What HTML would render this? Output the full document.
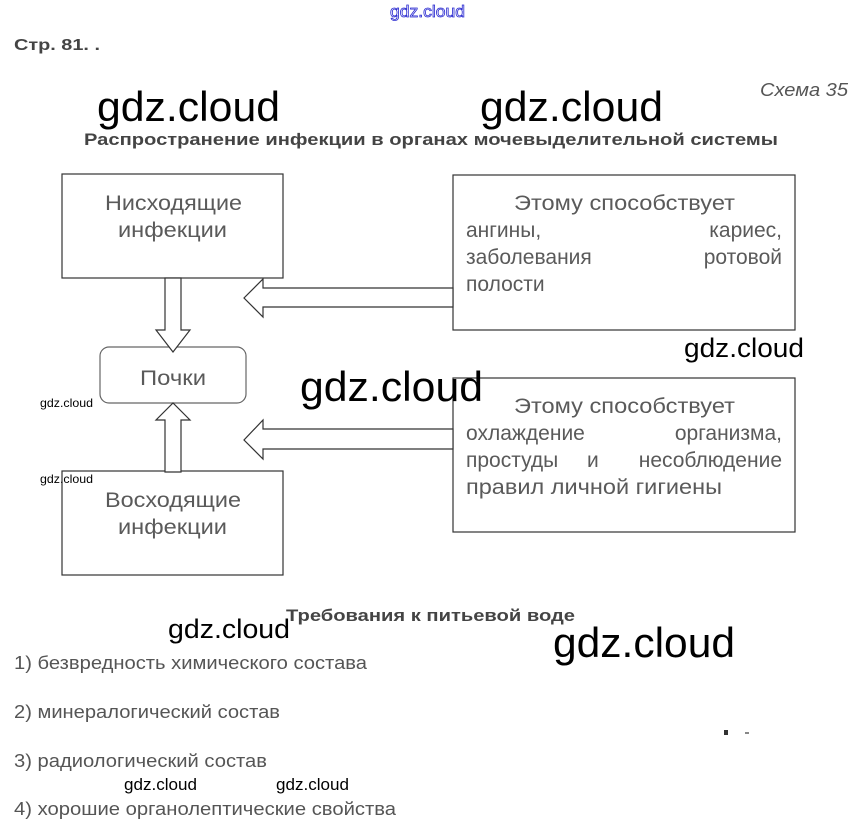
<!DOCTYPE html>
<html><head><meta charset="utf-8"><style>html,body{margin:0;padding:0;background:#fff;width:854px;height:835px;overflow:hidden}</style></head>
<body>
<svg width="854" height="835" viewBox="0 0 854 835" xmlns="http://www.w3.org/2000/svg" font-family="Liberation Sans, sans-serif">
<rect width="854" height="835" fill="#fff"/>
<text x="390" y="17" font-size="17" fill="#fff" stroke="#2a2ad0" stroke-width="0.8" textLength="75" lengthAdjust="spacingAndGlyphs">gdz.cloud</text>
<text x="14" y="50" font-size="16" font-weight="bold" fill="#444" textLength="86" lengthAdjust="spacingAndGlyphs">Стр. 81. .</text>
<text x="760" y="96" font-size="18" font-style="italic" fill="#555" textLength="88" lengthAdjust="spacingAndGlyphs">Схема 35</text>
<text x="97" y="121" font-size="42" fill="#000" textLength="183" lengthAdjust="spacingAndGlyphs">gdz.cloud</text>
<text x="480" y="121" font-size="42" fill="#000" textLength="183" lengthAdjust="spacingAndGlyphs">gdz.cloud</text>
<text x="84" y="145" font-size="17" font-weight="bold" fill="#444" textLength="694" lengthAdjust="spacingAndGlyphs">Распространение инфекции в органах мочевыделительной системы</text>

<g fill="#fff" stroke="#333" stroke-width="1.2">
<rect x="62" y="174" width="221" height="104"/>
<rect x="62" y="471" width="221" height="104"/>
<rect x="453" y="175" width="342" height="155"/>
<rect x="453" y="378" width="342" height="154"/>
<rect x="100" y="347" width="146" height="56" rx="9" stroke="#666"/>
<polygon points="165,278 181,278 181,330 190,330 173,352 156,330 165,330"/>
<polygon points="165,472 181,472 181,420 190,420 173,403 156,420 165,420"/>
<polygon points="453,288 263,288 263,279 244,298 263,317 263,307 453,307"/>
<polygon points="453,429 263,429 263,420 244,440 263,459 263,449 453,449"/>
</g>

<g font-size="21" fill="#5a5a5a">
<text x="105" y="210" textLength="137" lengthAdjust="spacingAndGlyphs">Нисходящие</text>
<text x="118" y="237" textLength="109" lengthAdjust="spacingAndGlyphs">инфекции</text>
<text x="140" y="385" textLength="66" lengthAdjust="spacingAndGlyphs">Почки</text>
<text x="105" y="507" textLength="136" lengthAdjust="spacingAndGlyphs">Восходящие</text>
<text x="118" y="534" textLength="109" lengthAdjust="spacingAndGlyphs">инфекции</text>
</g>
<g font-size="21" fill="#5a5a5a">
<text x="514" y="210" textLength="221" lengthAdjust="spacingAndGlyphs">Этому способствует</text>
<text x="466" y="237">ангины,</text>
<text x="782" y="237" text-anchor="end">кариес,</text>
<text x="466" y="264">заболевания</text>
<text x="782" y="264" text-anchor="end">ротовой</text>
<text x="466" y="291">полости</text>
<text x="514" y="413" textLength="221" lengthAdjust="spacingAndGlyphs">Этому способствует</text>
<text x="466" y="440">охлаждение</text>
<text x="782" y="440" text-anchor="end">организма,</text>
<text x="466" y="467">простуды</text>
<text x="587" y="467">и</text>
<text x="782" y="467" text-anchor="end">несоблюдение</text>
<text x="466" y="494" textLength="256" lengthAdjust="spacingAndGlyphs">правил личной гигиены</text>
</g>

<text x="300" y="401" font-size="42" fill="#000" textLength="183" lengthAdjust="spacingAndGlyphs">gdz.cloud</text>
<text x="684" y="357" font-size="27" fill="#000" textLength="120" lengthAdjust="spacingAndGlyphs">gdz.cloud</text>
<text x="40" y="407" font-size="12" fill="#000" textLength="53" lengthAdjust="spacingAndGlyphs">gdz.cloud</text>
<text x="40" y="483" font-size="12" fill="#000" textLength="53" lengthAdjust="spacingAndGlyphs">gdz.cloud</text>

<text x="286" y="621" font-size="17" font-weight="bold" fill="#444" textLength="289" lengthAdjust="spacingAndGlyphs">Требования к питьевой воде</text>
<text x="168" y="638" font-size="27" fill="#000" textLength="122" lengthAdjust="spacingAndGlyphs">gdz.cloud</text>
<text x="553" y="657" font-size="42" fill="#000" textLength="182" lengthAdjust="spacingAndGlyphs">gdz.cloud</text>
<g font-size="18" fill="#555">
<text x="14" y="669" textLength="353" lengthAdjust="spacingAndGlyphs">1) безвредность химического состава</text>
<text x="14" y="718" textLength="266" lengthAdjust="spacingAndGlyphs">2) минералогический состав</text>
<text x="14" y="767" textLength="253" lengthAdjust="spacingAndGlyphs">3) радиологический состав</text>
<text x="14" y="815" textLength="382" lengthAdjust="spacingAndGlyphs">4) хорошие органолептические свойства</text>
</g>
<text x="124" y="790" font-size="17" fill="#000" textLength="73" lengthAdjust="spacingAndGlyphs">gdz.cloud</text>
<text x="276" y="790" font-size="17" fill="#000" textLength="73" lengthAdjust="spacingAndGlyphs">gdz.cloud</text>
<rect x="724" y="730" width="4" height="5" fill="#333"/>
<rect x="745" y="732" width="4" height="2" fill="#888"/>
</svg>
</body></html>
